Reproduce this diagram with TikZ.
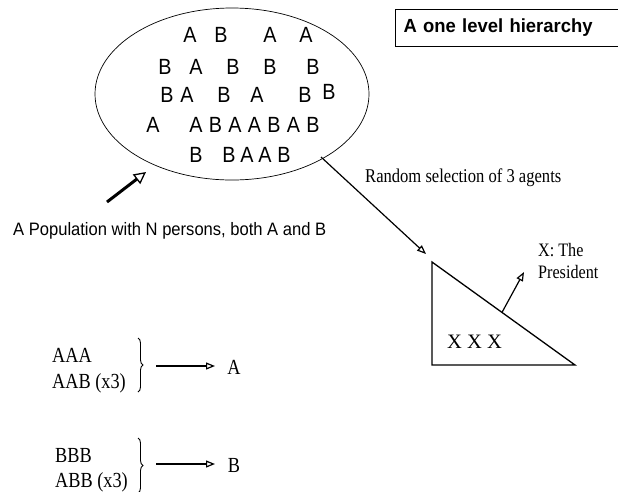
\documentclass[tikz,border=0pt]{standalone}
\usepackage{fontspec}
\setmainfont{Liberation Serif}
\newfontfamily\sansc[FakeStretch=0.9]{Liberation Sans}
\newfontfamily\sanst[FakeStretch=0.97]{Liberation Sans}
\newfontfamily\sansp[FakeStretch=0.92]{Liberation Sans}
\newfontfamily\serifc[FakeStretch=0.85]{Liberation Serif}
\newfontfamily\serifn{Liberation Serif}
\usetikzlibrary{arrows.meta,shapes.geometric,decorations.pathreplacing}
\begin{document}
\begin{tikzpicture}[x=1pt,y=-1pt,
  letter/.style={font=\sansc\fontsize{22}{22}\selectfont, inner sep=0pt},
  sertext/.style={font=\serifc\fontsize{20}{22}\selectfont, inner sep=0pt, anchor=base west},
  bottext/.style={font=\serifc\fontsize{21.5}{22}\selectfont, inner sep=0pt, anchor=base west},
  arr/.style={line width=1.2pt, -{Triangle[open,length=9pt,width=7pt]}},
  bigarr/.style={line width=3pt, -{Triangle[open,length=12pt,width=12pt,line width=1.3pt]}},
  bracestyle/.style={line width=0.9pt, decorate, decoration={brace, amplitude=5pt}},
  titlebox/.style={draw, line width=1pt, anchor=west, text width=225pt, inner xsep=8pt,
    minimum height=37pt, align=left, font=\sanst\bfseries\fontsize{19}{22}\selectfont}]
\useasboundingbox (0,0) rectangle (618,491);

% title
\node[titlebox] (title) at (395,27.5) {A one level hierarchy};

% population ellipse
\node[draw, ellipse, line width=0.7pt, minimum width=274pt, minimum height=172pt, inner sep=0pt] (pop) at (232,94) {};
\foreach \x/\y/\l [count=\i] in {
  190/35/A, 221/35/B, 270/35/A, 306/35/A,
  165/67/B, 196/67/A, 233/67/B, 270/67/B, 313/67/B,
  167/95/B, 187/95/A, 224/95/B, 257/95/A, 305/95/B, 329/92/B,
  153/125/A, 196/125/A, 215.5/125/B, 235/125/A, 254.5/125/A, 274/125/B, 293.5/125/A, 313/125/B,
  196/155/B, 229/155/B, 247/155/A, 265/155/A, 284/155/B}
  \node[letter] (l\i) at (\x,\y) {\l};

% population label and arrow
\node[font=\sansp\fontsize{18}{22}\selectfont, inner sep=0pt, anchor=base west] (poplabel) at (13,235)
  {A Population with N persons, both A and B};
\coordinate (pa) at (107,202);
\coordinate (pb) at (146,172);
\draw[bigarr] (pa) -- (pb);

% random selection
\coordinate (s1) at (321,157);
\coordinate (s2) at (426,254);
\draw[arr] (s1) -- (s2);
\node[sertext, font=\serifc\fontsize{19.5}{22}\selectfont] (rand) at (365,182) {Random selection of 3 agents};

% triangle (council)
\coordinate (t1) at (432,262);
\coordinate (t2) at (432,365);
\coordinate (t3) at (575,365);
\draw[line width=1.3pt] (t1) -- (t2) -- (t3) -- cycle;
\node[sertext, font=\serifn\fontsize{20.5}{22}\selectfont] (xxx) at (447,348) {X X X};
\coordinate (h) at (502,312.4);
\coordinate (hp) at (524,272);
\draw[arr] (h) -- (hp);
\node[sertext, font=\serifc\fontsize{19}{22}\selectfont] (pres1) at (538,256) {X: The};
\node[sertext, font=\serifc\fontsize{19}{22}\selectfont] (pres2) at (538,278) {President};

% rule for A
\node[bottext] (aaa) at (52,362) {AAA};
\node[bottext] (aab) at (52,388) {AAB (x3)};
\draw[bracestyle] (138,338) -- (138,392);
\coordinate (ba1) at (156,366);
\coordinate (ba2) at (215,366);
\draw[arr] (ba1) -- (ba2);
\node[bottext, anchor=base] (resA) at (234,374) {A};

% rule for B
\node[bottext] (bbb) at (55,462) {BBB};
\node[bottext] (abb) at (55,487) {ABB (x3)};
\draw[bracestyle] (138,438) -- (138,493);
\coordinate (bb1) at (156,464);
\coordinate (bb2) at (215,464);
\draw[arr] (bb1) -- (bb2);
\node[bottext, anchor=base] (resB) at (234,472) {B};
\end{tikzpicture}
\end{document}
